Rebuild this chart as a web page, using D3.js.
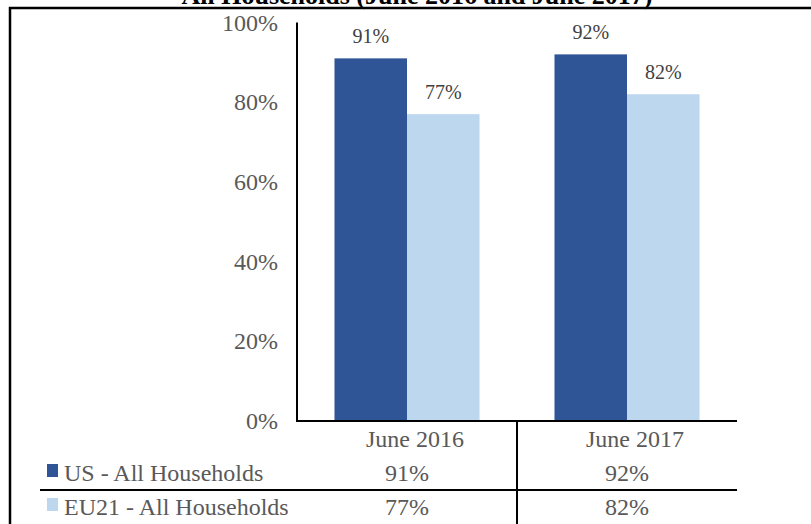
<!DOCTYPE html>
<html>
<head>
<meta charset="utf-8">
<script src="https://cdn.jsdelivr.net/npm/d3@7"></script>
<style>
  html, body { margin: 0; padding: 0; background: #fff; }
  svg { display: block; }
  text { font-family: "Liberation Serif", "Times New Roman", serif; }
</style>
</head>
<body>
<svg id="chart" width="811" height="524"></svg>
<script>
const title = "All Households (June 2016 and June 2017)";
const categories = ["June 2016", "June 2017"];
const seriesNames = ["US - All Households", "EU21 - All Households"];
const usValues = [0.91, 0.92];
const euValues = [0.77, 0.82];
const yTicks = [0, 0.2, 0.4, 0.6, 0.8, 1.0];
const colors = ["#2F5597", "#BDD7EE"];

const seriesValues = [usValues, euValues];
const svg = d3.select("#chart");

const plotLeft = 297, plotRight = 737, plotTop = 22.5, plotBottom = 421;
const x0 = d3.scaleBand().domain(categories).range([plotLeft, plotRight]).paddingInner(0).paddingOuter(0);
const x1 = d3.scaleBand().domain(seriesNames).range([0, x0.bandwidth()]).paddingInner(0).paddingOuter(0.517);
const y = d3.scaleLinear().domain([0, 1]).range([plotBottom, plotTop]);
const fmt = d3.format(".0%");

// title (cropped at top)
svg.append("text")
  .attr("x", 417).attr("y", 4)
  .attr("text-anchor", "middle")
  .attr("font-weight", "bold")
  .attr("font-size", 26)
  .attr("fill", "#000")
  .text(title);

// outer frame
svg.append("path")
  .attr("d", `M10,530 L10,8 L820,8`)
  .attr("fill", "none").attr("stroke", "#000").attr("stroke-width", 2.5);

// bars
const groups = svg.append("g").selectAll("g")
  .data(categories).join("g")
  .attr("transform", d => `translate(${x0(d)},0)`);

groups.selectAll("rect")
  .data((c, i) => seriesNames.map((s, j) => ({ s, v: seriesValues[j][i], j })))
  .join("rect")
  .attr("x", d => x1(d.s))
  .attr("width", x1.bandwidth())
  .attr("y", d => y(d.v))
  .attr("height", d => y(0) - y(d.v))
  .attr("fill", d => colors[d.j]);

groups.selectAll("text.lbl")
  .data((c, i) => seriesNames.map((s, j) => ({ s, v: seriesValues[j][i], j })))
  .join("text")
  .attr("class", "lbl")
  .attr("x", d => x1(d.s) + x1.bandwidth() / 2)
  .attr("y", d => y(d.v) - 15)
  .attr("text-anchor", "middle")
  .attr("font-size", 20)
  .attr("fill", "#404040")
  .text(d => fmt(d.v));

// y axis
const yAxis = d3.axisLeft(y).tickValues(yTicks).tickFormat(fmt).tickSize(0).tickPadding(19);
const yg = svg.append("g").attr("transform", `translate(${plotLeft},0)`).call(yAxis);
yg.select(".domain").remove();
yg.selectAll("text")
  .attr("font-family", "Liberation Serif, serif")
  .attr("font-size", 24)
  .attr("fill", "#595959")
  .attr("dy", "0.32em");

// axis lines
svg.append("line").attr("x1", plotLeft).attr("x2", plotLeft).attr("y1", plotTop).attr("y2", plotBottom)
  .attr("stroke", "#000").attr("stroke-width", 2);
svg.append("line").attr("x1", plotLeft - 1).attr("x2", plotRight).attr("y1", plotBottom).attr("y2", plotBottom)
  .attr("stroke", "#000").attr("stroke-width", 2);

// data table
const tableRow1 = 490;
svg.append("line").attr("x1", x0(categories[1])).attr("x2", x0(categories[1]))
  .attr("y1", plotBottom).attr("y2", 530).attr("stroke", "#000").attr("stroke-width", 2);
svg.append("line").attr("x1", 40).attr("x2", plotRight).attr("y1", tableRow1).attr("y2", tableRow1)
  .attr("stroke", "#000").attr("stroke-width", 2);

svg.append("g").selectAll("text")
  .data(categories).join("text")
  .attr("x", d => x0(d) + x0.bandwidth() / 2 + 8)
  .attr("y", 447)
  .attr("text-anchor", "middle")
  .attr("font-size", 24)
  .attr("fill", "#595959")
  .text(d => d);

const rowBaselines = [481, 515];
seriesNames.forEach((s, j) => {
  svg.append("rect").attr("x", 47).attr("y", rowBaselines[j] - 17).attr("width", 11).attr("height", 13)
    .attr("fill", colors[j]);
  svg.append("text").attr("x", 64).attr("y", rowBaselines[j])
    .attr("font-size", 24).attr("fill", "#595959").text(s);
  svg.append("g").selectAll("text")
    .data(categories).join("text")
    .attr("x", d => x0(d) + x0.bandwidth() / 2)
    .attr("y", rowBaselines[j])
    .attr("text-anchor", "middle")
    .attr("font-size", 24)
    .attr("fill", "#595959")
    .text((d, i) => fmt(seriesValues[j][i]));
});
</script>
</body>
</html>
